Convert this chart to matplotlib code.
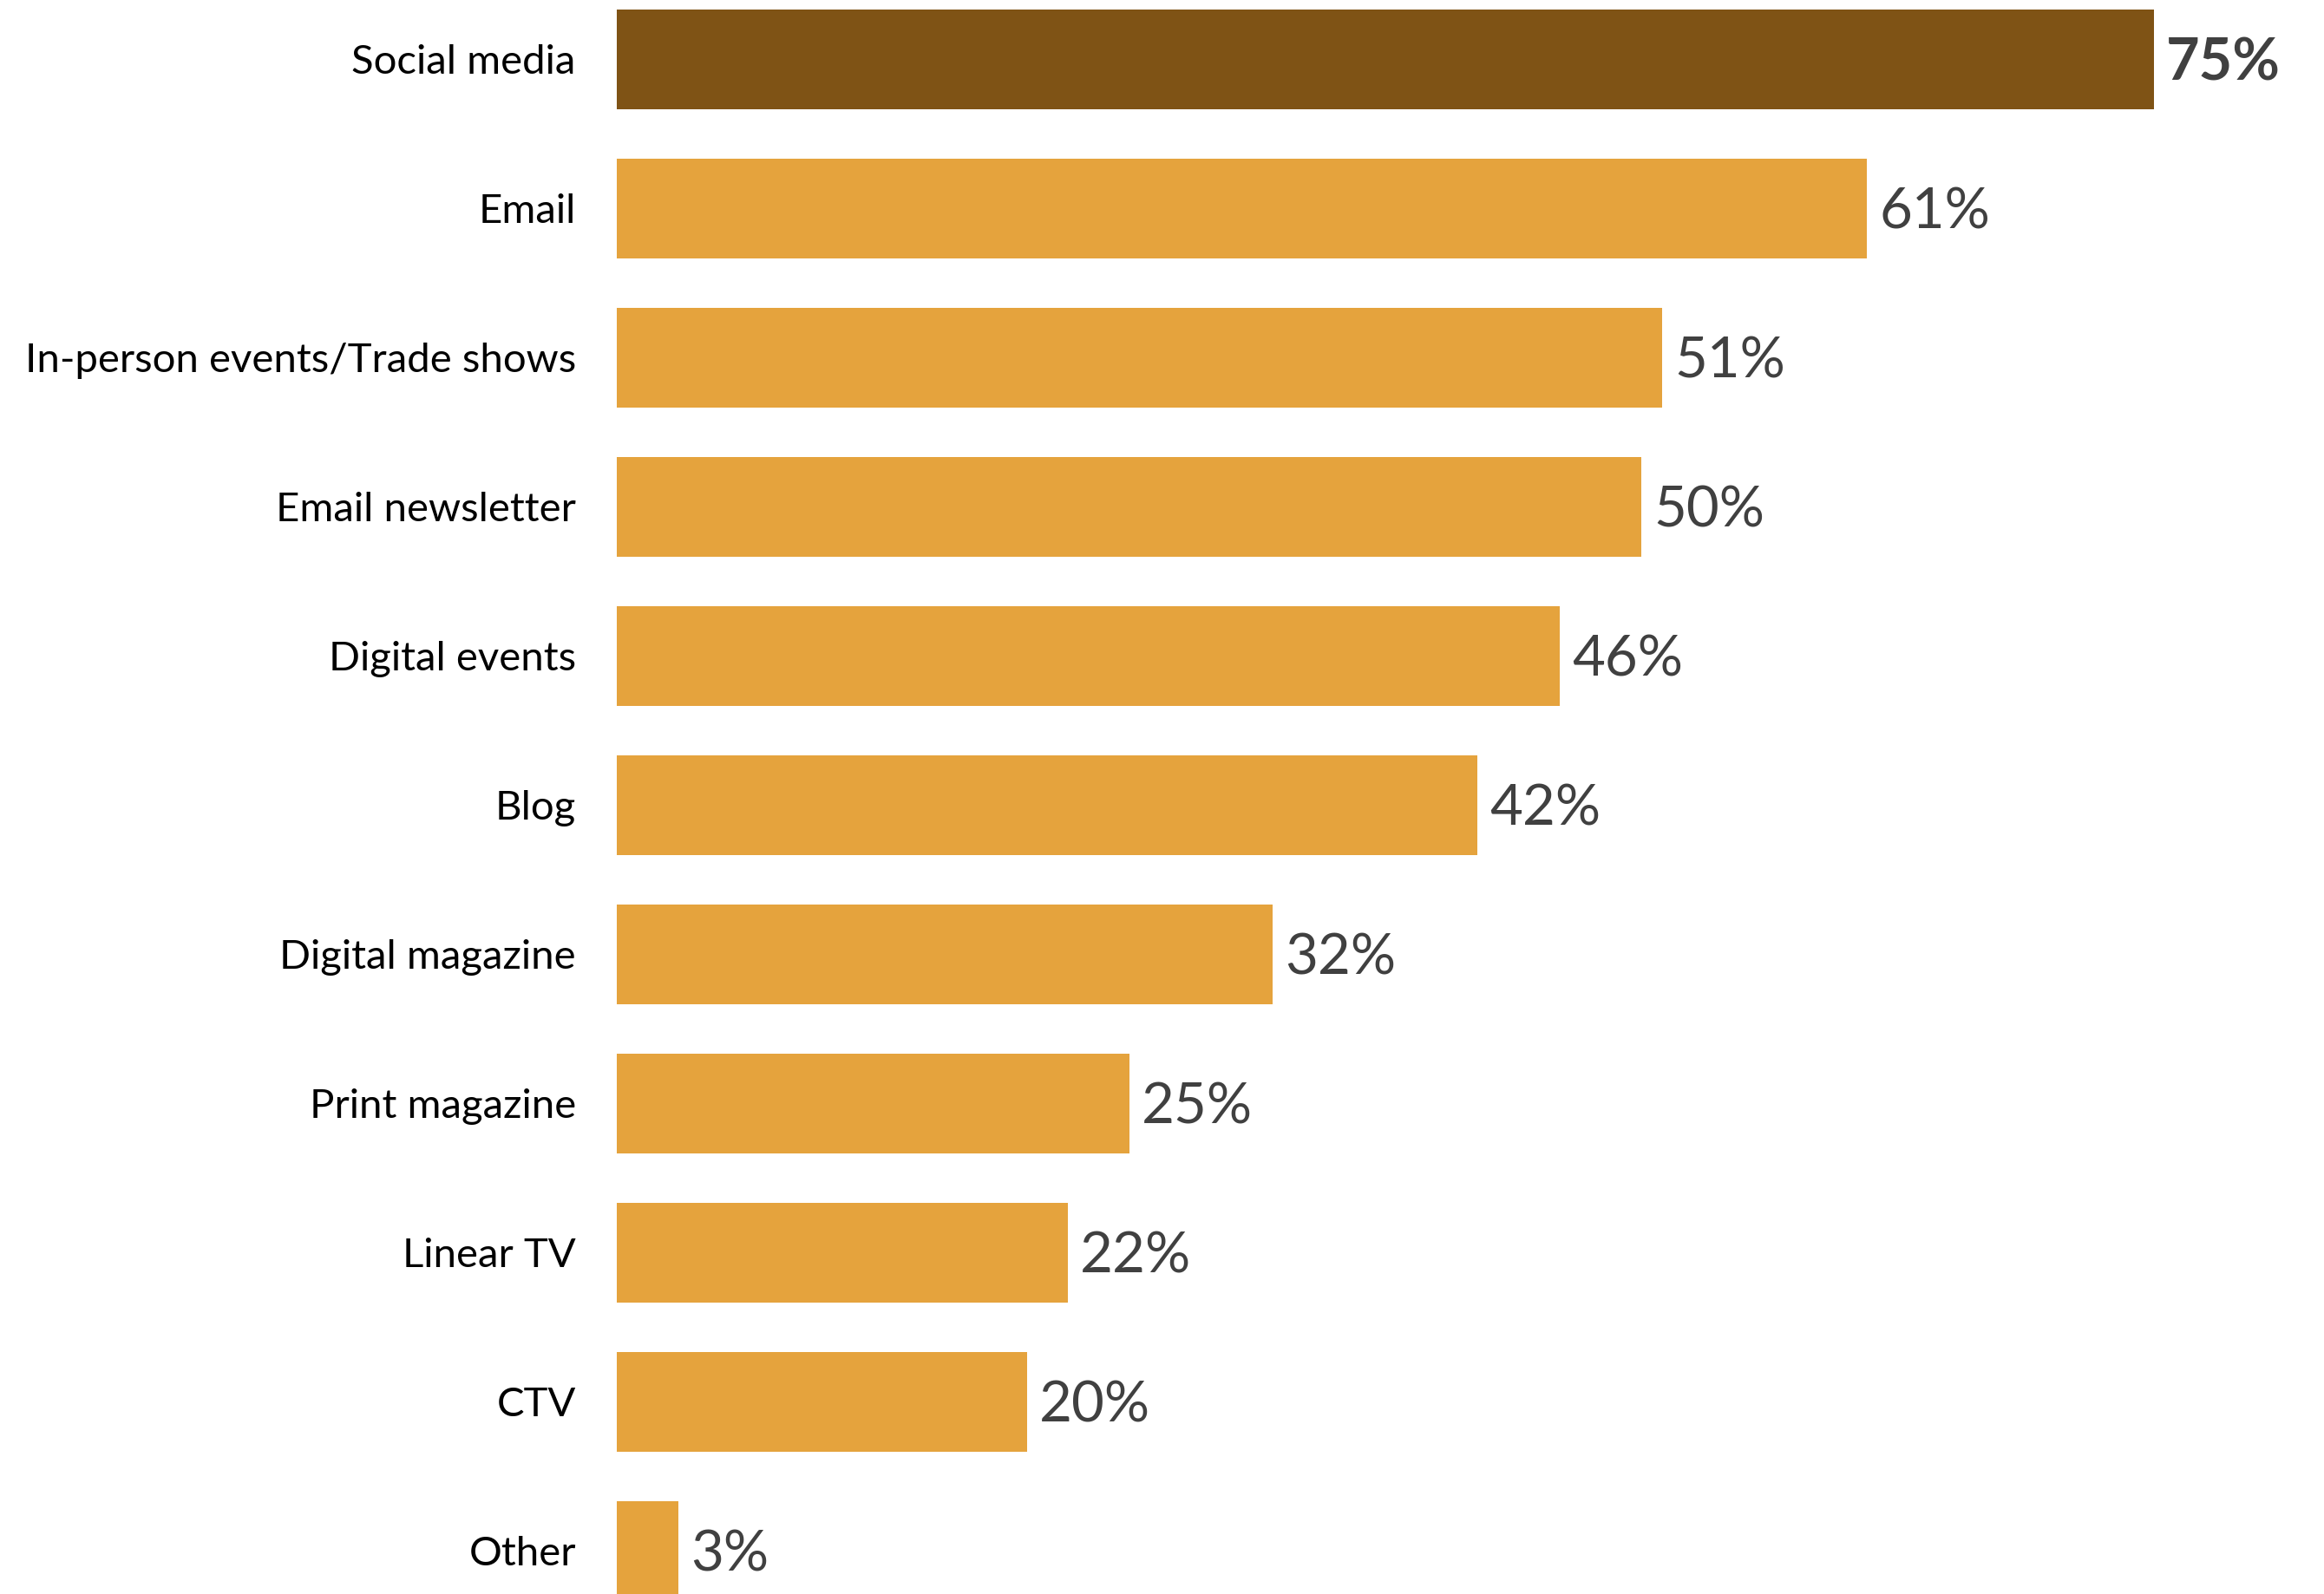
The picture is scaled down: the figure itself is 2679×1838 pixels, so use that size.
import matplotlib.pyplot as plt

# channels used, share of respondents (%)
channels = ['Social media', 'Email', 'In-person events/Trade shows', 'Email newsletter',
            'Digital events', 'Blog', 'Digital magazine', 'Print magazine',
            'Linear TV', 'CTV', 'Other']
shares = [75, 61, 51, 50, 46, 42, 32, 25, 22, 20, 3]

dark = '#7F5315'
light = '#E5A33D'
text_grey = '#404040'

plt.rcParams['font.family'] = ['Lato', 'DejaVu Sans']

fig = plt.figure(figsize=(26.79, 18.38), dpi=100)
ax = fig.add_axes([0.2654, 0.0, 0.7346, 1.0])

pos = list(range(len(channels)))
colors = [dark if i == 0 else light for i in pos]
ax.barh(pos, shares, height=0.67, color=colors, edgecolor='none')

for i, v in enumerate(shares):
    ax.annotate('{}%'.format(v), xy=(v, i), xytext=(14, -5), textcoords='offset pixels',
                ha='left', va='center', fontsize=48 if i == 0 else 47, color=text_grey,
                fontweight='bold' if i == 0 else 'normal')

ax.set_xlim(0, 83.3)
ax.set_ylim(10.288, -0.398)
ax.set_yticks(pos)
ax.set_yticklabels(channels, fontsize=34, fontweight='normal', color='black')
ax.tick_params(axis='y', length=0, pad=34)
ax.set_xticks([])
for s in ax.spines.values():
    s.set_visible(False)

fig.savefig('out.png', dpi=100)
